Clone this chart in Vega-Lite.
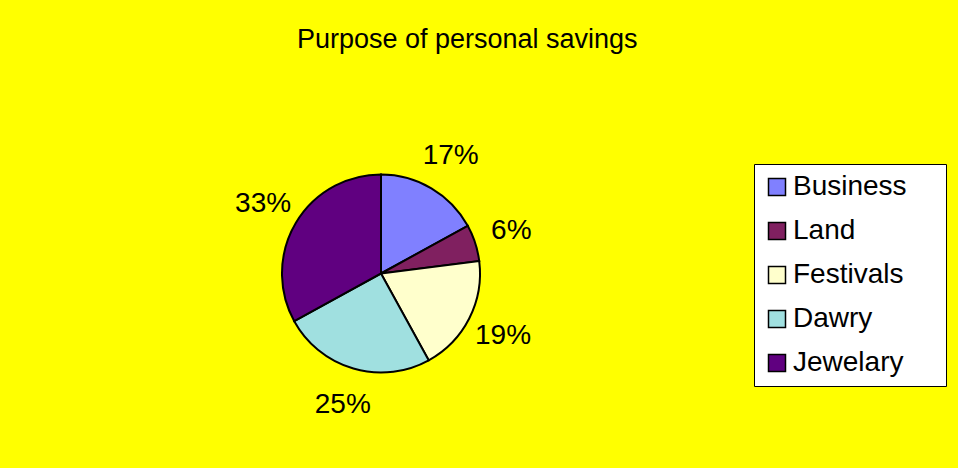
{
  "$schema": "https://vega.github.io/schema/vega-lite/v6.json",
  "width": 958,
  "height": 468,
  "autosize": {"type": "fit", "contains": "padding"},
  "padding": {"left": 8, "top": 48, "right": 11, "bottom": 85},
  "background": "#FFFF00",
  "title": {
    "text": "Purpose of personal savings",
    "anchor": "middle",
    "frame": "bounds",
    "offset": 88,
    "dx": -10,
    "font": "Liberation Sans",
    "fontSize": 27,
    "fontWeight": "normal",
    "color": "#000000"
  },
  "data": {
    "values": [
      {"purpose": "Business", "share": 17, "label": "17%", "rank": 1},
      {"purpose": "Land", "share": 6, "label": "6%", "rank": 2},
      {"purpose": "Festivals", "share": 19, "label": "19%", "rank": 3},
      {"purpose": "Dawry", "share": 25, "label": "25%", "rank": 4},
      {"purpose": "Jewelary", "share": 33, "label": "33%", "rank": 5}
    ]
  },
  "encoding": {
    "theta": {"field": "share", "type": "quantitative", "stack": true},
    "order": {"field": "rank", "type": "quantitative"}
  },
  "layer": [
    {
      "mark": {"type": "arc", "radius": 99, "stroke": "#000000", "strokeWidth": 2},
      "encoding": {
        "color": {
          "field": "purpose",
          "type": "nominal",
          "sort": null,
          "scale": {
            "domain": ["Business", "Land", "Festivals", "Dawry", "Jewelary"],
            "range": ["#8080FF", "#802060", "#FFFFCC", "#A0E0E0", "#600080"]
          },
          "legend": {
            "orient": "right",
            "offset": 0,
            "title": " ",
            "titleOrient": "right",
            "titlePadding": 30,
            "titleFontSize": 1,
            "fillColor": "#FFFFFF",
            "strokeColor": "#000000",
            "padding": 9,
            "symbolType": "square",
            "symbolSize": 289,
            "symbolStrokeColor": "#000000",
            "symbolStrokeWidth": 1.5,
            "symbolOpacity": 1,
            "labelFont": "Liberation Sans",
            "labelFontSize": 28,
            "labelColor": "#000000",
            "labelOffset": 2,
            "labelLimit": 300,
            "rowPadding": 16
          }
        }
      }
    },
    {
      "mark": {"type": "text", "radius": 137, "font": "Liberation Sans", "fontSize": 28, "fill": "#000000"},
      "encoding": {
        "detail": {"field": "purpose", "type": "nominal"},
        "text": {"field": "label", "type": "nominal"}
      }
    }
  ],
  "config": {"view": {"stroke": null}}
}
